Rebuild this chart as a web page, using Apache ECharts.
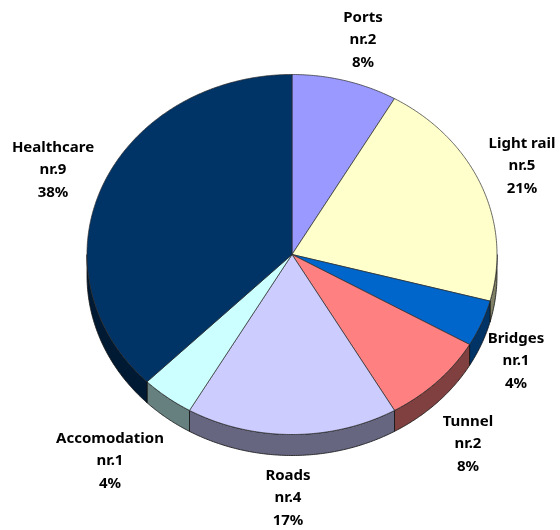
<!DOCTYPE html>
<html>
<head>
<meta charset="utf-8">
<style>html,body{margin:0;padding:0;background:#fff}#c{width:560px;height:530px}</style>
<script src="https://cdn.jsdelivr.net/npm/echarts@6/dist/echarts.min.js"></script>
</head>
<body>
<div id="c"></div>
<script>
const categories = ['Ports','Light rail','Bridges','Tunnel','Roads','Accomodation','Healthcare'];
const counts = [2,5,1,2,4,1,9];
const percents = [8,21,4,8,17,4,38];
const topColors = ['#9999ff','#ffffcc','#0066cc','#ff8080','#ccccff','#ccffff','#003366'];
const labelCenters = [[363,40],[522,166],[516,361],[468,444],[288,498],[110,461],[53,170]];

const CX = 292, CY = 254.5, RX = 205, RY = 180, DEPTH = 21;
const total = counts.reduce((a,b)=>a+b,0);
const starts = []; counts.reduce((acc,v,i)=>{starts[i]=acc; return acc+v;},0);

function rimPoint(deg, dy){
  const t = deg*Math.PI/180;
  return [CX+RX*Math.sin(t), CY-RY*Math.cos(t)+dy];
}
function halve(hex){
  const n = parseInt(hex.slice(1),16);
  const c = [(n>>16)&255,(n>>8)&255,n&255].map(v=>Math.round(v/2));
  return 'rgb('+c.join(',')+')';
}
function arc(a,b,dy){
  const pts=[]; const steps=Math.max(2,Math.ceil((b-a)*2));
  for(let k=0;k<=steps;k++) pts.push(rimPoint(a+(b-a)*k/steps,dy));
  return pts;
}
function renderItem(params, api){
  const i = params.dataIndex;
  const a0 = starts[i]/total*360, a1 = (starts[i]+api.value(0))/total*360;
  const children = [];
  const sa = Math.max(a0,90), sb = Math.min(a1,270);
  if(sb>sa){
    const pts = arc(sa,sb,0).concat(arc(sa,sb,DEPTH).reverse());
    children.push({type:'polygon',shape:{points:pts},
      style:{fill:halve(topColors[i]),stroke:'#111',lineWidth:0.8}});
  }
  children.push({type:'polygon',shape:{points:[[CX,CY]].concat(arc(a0,a1,0))},
    style:{fill:topColors[i],stroke:'#2a2a2a',lineWidth:0.7,lineJoin:'round'}});
  return {type:'group',children};
}
function renderLabels(params, api){
  const i = params.dataIndex;
  return {type:'text',
    style:{x:labelCenters[i][0],y:labelCenters[i][1],
      text:categories[i]+'\nnr.'+counts[i]+'\n'+percents[i]+'%',
      font:'bold 15px "Noto Sans"',fill:'#000',align:'center',verticalAlign:'middle',lineHeight:22.5}};
}
const chart = echarts.init(document.getElementById('c'),null,{renderer:'canvas'});
const rows = categories.map((n,i)=>({name:n,value:[counts[i]]}));
chart.setOption({
  animation:false,
  backgroundColor:'#fff',
  series:[
    {type:'custom',coordinateSystem:'none',renderItem,data:rows,silent:true,z:2},
    {type:'custom',coordinateSystem:'none',renderItem:renderLabels,data:rows,silent:true,z:3}
  ]
});
</script>
</body>
</html>
